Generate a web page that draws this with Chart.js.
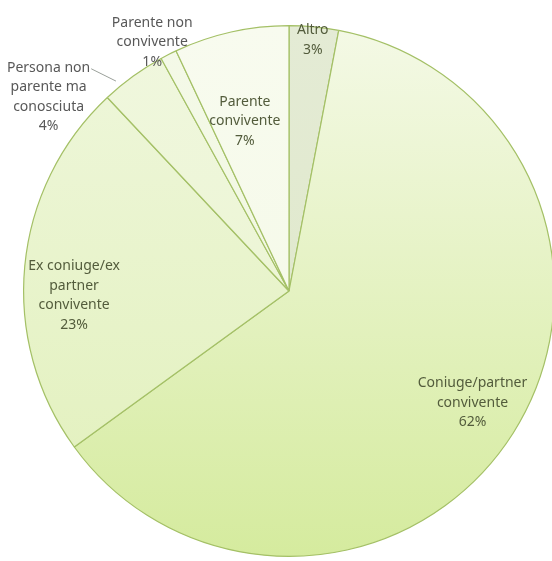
<!DOCTYPE html>
<html>
<head>
<meta charset="utf-8">
<script src="https://cdn.jsdelivr.net/npm/chart.js@4"></script>
<style>
  html, body { margin: 0; padding: 0; background: #ffffff; overflow: hidden; }
  canvas { display: block; }
</style>
</head>
<body>
<canvas id="pieChart" width="580" height="561"></canvas>
<script>
// data, clockwise from 12 o'clock
const categories = [
    ['Altro'],
    ['Coniuge/partner', 'convivente'],
    ['Ex coniuge/ex', 'partner', 'convivente'],
    ['Persona non', 'parente ma', 'conosciuta'],
    ['Parente non', 'convivente'],
    ['Parente', 'convivente']
];
const percentages = [3, 62, 23, 4, 1, 7];

// slice colours (top, bottom of the gradient)
const topColors = ['#e4ebd5', '#f4f9e6', '#eff7dc', '#f0f7de', '#f4f9e8', '#f8fbef'];
const bottomColors = ['#dde7c6', '#d5eb9e', '#e1f0ba', '#e9f4cd', '#eff7dc', '#f3f9e4'];

// label placement: [radius factor, angle offset in degrees]
const labelPos = [[0.95, 0], [0.81, -1], [0.81, -6.6], [1.164, -15.1], [1.07, -1.8], [0.66, -2]];
const insideLabel = [true, true, true, false, false, true];

const labelPlugin = {
    id: 'sliceLabels',
    afterDraw(chart) {
        const ctx = chart.ctx;
        const arcs = chart.getDatasetMeta(0).data;
        ctx.save();
        ctx.font = '14px "Noto Sans"';
        ctx.textAlign = 'center';
        ctx.textBaseline = 'middle';
        const lineH = 19.5;

        arcs.forEach(function(arc, i) {
            const mid = (arc.startAngle + arc.endAngle) / 2;
            const a = mid + labelPos[i][1] * Math.PI / 180;
            const r = arc.outerRadius * labelPos[i][0];
            const cx = arc.x + Math.cos(a) * r;
            const cy = arc.y + Math.sin(a) * r;
            const lines = categories[i].concat([percentages[i] + '%']);
            const y0 = cy - (lines.length - 1) * lineH / 2;

            ctx.fillStyle = insideLabel[i] ? '#535c3c' : '#585858';
            lines.forEach(function(t, k) {
                ctx.fillText(t, cx, y0 + k * lineH);
            });

            // leader line for the small outside slice
            if (i === 3) {
                const w = ctx.measureText(lines[0]).width;
                const ea = mid - 3.5 * Math.PI / 180;
                const er = arc.outerRadius * 1.025;
                ctx.strokeStyle = '#9aa09a';
                ctx.lineWidth = 1;
                ctx.beginPath();
                ctx.moveTo(cx + w / 2 + 1, y0 + 1);
                ctx.lineTo(arc.x + Math.cos(ea) * er, arc.y + Math.sin(ea) * er);
                ctx.stroke();
            }
        });
        ctx.restore();
    }
};

function sliceFill(context) {
    const chart = context.chart;
    const area = chart.chartArea;
    const i = context.dataIndex;
    if (!area) return topColors[i];
    const g = chart.ctx.createLinearGradient(0, area.top, 0, area.bottom);
    g.addColorStop(0, topColors[i]);
    g.addColorStop(1, bottomColors[i]);
    return g;
}

const ctx = document.getElementById('pieChart').getContext('2d');
new Chart(ctx, {
    type: 'pie',
    data: {
        labels: categories.map(c => c.join(' ')),
        datasets: [{
            data: percentages,
            backgroundColor: sliceFill,
            borderColor: '#a4c066',
            borderWidth: 1.2
        }]
    },
    options: {
        responsive: false,
        animation: false,
        layout: {
            padding: { left: 23, right: 25, top: 25, bottom: 4 }
        },
        plugins: {
            legend: { display: false },
            tooltip: { enabled: false }
        }
    },
    plugins: [labelPlugin]
});
</script>
</body>
</html>
